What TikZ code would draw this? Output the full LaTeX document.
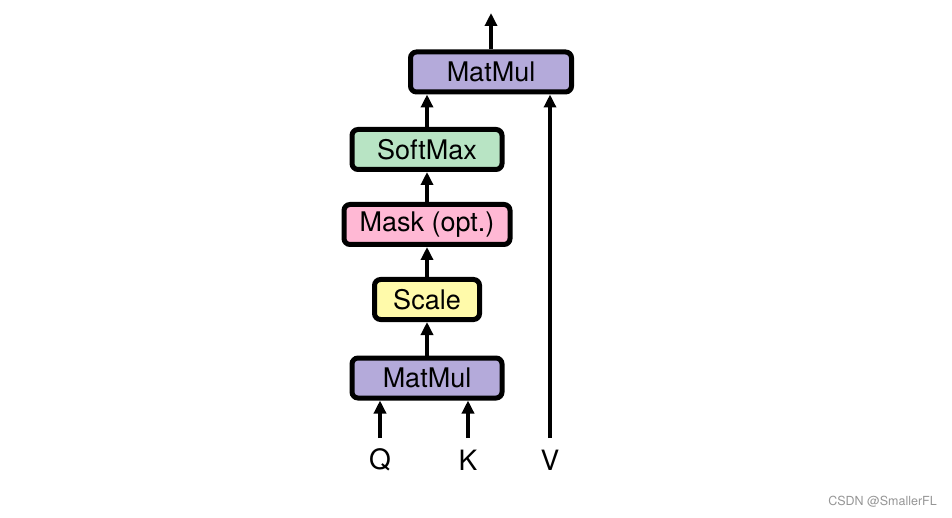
\documentclass[tikz,border=0pt]{standalone}
\usepackage{fontspec}
\setmainfont{TeX Gyre Heros}
\usetikzlibrary{arrows.meta}
\definecolor{matmulc}{RGB}{180,170,218}
\definecolor{softc}{RGB}{184,228,196}
\definecolor{maskc}{RGB}{255,184,212}
\definecolor{scalec}{RGB}{255,250,170}
\definecolor{wmc}{RGB}{150,150,150}
\begin{document}
\begin{tikzpicture}[x=1pt,y=-1pt,
  opbox/.style={draw=black, line width=5pt, rounded corners=6pt, minimum height=40pt, inner sep=0pt, font=\fontsize{27}{30}\selectfont},
  lbl/.style={font=\fontsize{28}{30}\selectfont, inner sep=0pt},
  flow/.style={line width=4pt, -{Triangle[length=13pt,width=12pt]}}]
\useasboundingbox[fill=white] (0,0) rectangle (952,518);
\node[opbox, fill=matmulc, minimum width=161pt] (mm2) at (491,72) {MatMul};
\node[opbox, fill=softc, minimum width=150pt] (sm) at (427,149.5) {SoftMax};
\node[opbox, fill=maskc, minimum width=166pt] (mask) at (427,224.5) {Mask (opt.)};
\node[opbox, fill=scalec, minimum width=105pt] (scale) at (427,299.5) {Scale};
\node[opbox, fill=matmulc, minimum width=150pt] (mm1) at (427,378) {MatMul};
\node[lbl] (q) at (380,460) {Q};
\node[lbl] (k) at (468,460) {K};
\node[lbl] (v) at (550,460) {V};
\coordinate (qs) at (380,438);
\coordinate (ks) at (468,438);
\coordinate (vs) at (550,438);
\coordinate (out) at (491,13);
\draw[flow] (qs) -- (qs |- mm1.south);
\draw[flow] (ks) -- (ks |- mm1.south);
\draw[flow] (mm1.north) -- (scale.south);
\draw[flow] (scale.north) -- (mask.south);
\draw[flow] (mask.north) -- (sm.south);
\draw[flow] (sm.north) -- (sm.north |- mm2.south);
\draw[flow] (vs) -- (vs |- mm2.south);
\draw[flow] (mm2.north) -- (out);
\node[anchor=east, text=wmc, font=\fontsize{12.5}{14}\selectfont, inner sep=0pt] (wm) at (937,502) {CSDN @SmallerFL};
\end{tikzpicture}
\end{document}
